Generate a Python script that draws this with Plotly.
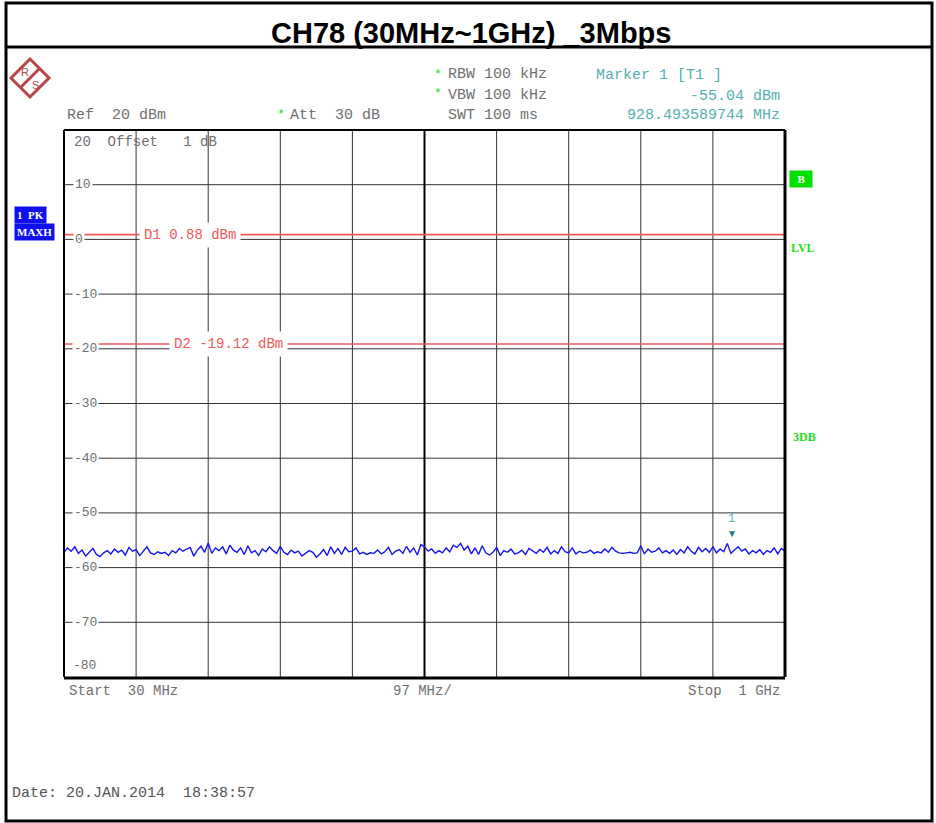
import numpy as np
import plotly.graph_objects as go

# ---------------- data ----------------
f_start_mhz = 30.0
f_stop_mhz = 1000.0
span_per_div = 97.0
ref_level_dbm = 20.0
y_bottom_dbm = -80.0
y_tick_vals = [20, 10, 0, -10, -20, -30, -40, -50, -60, -70, -80]
y_tick_labels = ["20", "10", "0", "-10", "-20", "-30", "-40", "-50", "-60", "-70", "-80"]

d1_level_dbm = 0.88
d2_level_dbm = -19.12
marker_freq_mhz = 928.493589744
marker_level_dbm = -55.04

trace_dbm = [
    -57.2, -56.4, -57.0, -56.2, -57.4, -56.8, -57.9, -57.1, -56.5, -57.6, -58.0, -57.3, -56.9, -57.5, -56.6, -57.2, -56.8, -57.7, -56.3, -57.0,
    -56.7, -57.8, -56.9, -56.2, -57.3, -57.6, -57.1, -57.4, -57.2, -57.8, -56.9, -57.3, -56.5, -57.0, -56.6, -56.3, -57.9, -56.8, -56.1, -57.2,
    -55.5, -57.4, -56.4, -56.9, -56.2, -57.5, -55.9, -56.8, -57.2, -56.4, -57.6, -56.0, -57.3, -56.9, -57.8, -56.6, -57.1, -56.2, -56.9, -57.4,
    -56.1, -57.2, -57.6, -56.8, -57.3, -57.0, -57.9, -57.4, -56.9, -57.2, -58.1, -57.5, -56.7, -57.8, -56.2, -57.4, -56.5, -57.6, -56.3, -57.1,
    -57.0, -56.4, -57.5, -57.2, -57.6, -57.3, -57.4, -56.8, -57.5, -57.1, -56.3, -57.6, -57.0, -56.7, -57.4, -56.1, -57.2, -56.4, -57.7, -55.8,
    -56.2, -57.0, -56.6, -57.4, -56.9, -57.3, -56.4, -57.1, -55.9, -56.3, -55.6, -56.8, -56.1, -57.5, -56.4, -57.6, -56.0, -57.3, -57.7, -57.2,
    -56.3, -57.8, -56.9, -57.2, -56.6, -57.5, -57.3, -56.8, -57.6, -56.5, -57.0, -57.4, -56.7, -57.2, -56.3, -57.5, -56.9, -57.4, -56.2, -57.1,
    -57.3, -56.4, -57.5, -57.0, -57.3, -57.2, -56.8, -57.4, -57.1, -57.3, -56.6, -57.2, -56.3, -57.0, -57.3, -57.4, -57.3, -57.2, -57.4, -57.3,
    -56.0, -57.5, -56.6, -57.2, -57.0, -56.4, -57.3, -56.9, -57.4, -56.8, -57.6, -56.7, -57.3, -56.2, -57.0, -57.5, -56.3, -57.1, -56.5, -57.2,
    -56.2, -57.3, -56.6, -57.1, -55.6, -57.4, -56.8, -56.2, -57.0, -56.6, -57.5, -56.9, -57.3, -56.7, -57.6, -56.9, -57.2, -56.4, -57.5, -56.5,
    -57.0,
]
freq_mhz = np.linspace(f_start_mhz, f_stop_mhz, len(trace_dbm))
x_grid = [f_start_mhz + span_per_div * k for k in range(11)]

# ---------------- layout geometry (pixels) ----------------
W, H = 936, 823
L, R, T, B = 64, 785, 130, 677


def px(x):
    return (x - L) / (R - L)


def py(y):
    return (B - y) / (B - T)


MONO = "Liberation Mono, Courier New, monospace"
GREY = "#707070"
TEAL = "#55b0b0"
GREEN = "#22dd22"
RED = "#f05858"
BLUE = "#1414f0"

fig = go.Figure()

fig.add_trace(go.Scatter(
    x=freq_mhz, y=trace_dbm, mode="lines",
    line=dict(color=BLUE, width=1.4), hoverinfo="skip", showlegend=False,
))

fig.add_trace(go.Scatter(
    x=[marker_freq_mhz], y=[marker_level_dbm], mode="markers",
    marker=dict(color="rgba(0,0,0,0)", size=1), showlegend=False, hoverinfo="skip",
))

shapes = []
for v in y_tick_vals[1:-1]:
    shapes.append(dict(type="line", xref="x", yref="y", x0=f_start_mhz, x1=f_stop_mhz, y0=v, y1=v,
                       line=dict(color="#333333", width=1), layer="below"))
for i, v in enumerate(x_grid[1:-1]):
    w = 2 if abs(v - (f_start_mhz + 5 * span_per_div)) < 1e-6 else 1
    c = "#000000" if w == 2 else "#333333"
    shapes.append(dict(type="line", xref="x", yref="y", x0=v, x1=v, y0=y_bottom_dbm, y1=ref_level_dbm,
                       line=dict(color=c, width=w), layer="below"))
for lvl in (d1_level_dbm, d2_level_dbm):
    shapes.append(dict(type="line", xref="x", yref="y", x0=f_start_mhz, x1=f_stop_mhz, y0=lvl, y1=lvl,
                       line=dict(color=RED, width=1.6), layer="below"))
shapes += [
    dict(type="line", xref="paper", yref="paper", x0=0, x1=0, y0=0, y1=1, line=dict(color="black", width=2)),
    dict(type="line", xref="paper", yref="paper", x0=0, x1=1, y0=1, y1=1, line=dict(color="black", width=2)),
    dict(type="line", xref="paper", yref="paper", x0=1, x1=1, y0=0, y1=1, line=dict(color="black", width=3)),
    dict(type="line", xref="paper", yref="paper", x0=0, x1=1, y0=py(678), y1=py(678), line=dict(color="black", width=3)),
]
shapes += [
    dict(type="rect", xref="paper", yref="paper", x0=px(6), x1=px(932), y0=py(3), y1=py(821),
         line=dict(color="black", width=3)),
    dict(type="line", xref="paper", yref="paper", x0=px(6), x1=px(932), y0=py(47), y1=py(47),
         line=dict(color="black", width=3)),
]
logo_col = "#b84545"
cx, cy, r = 30, 78, 19
shapes.append(dict(type="path", xref="paper", yref="paper",
                   path=f"M {px(cx)} {py(cy - r)} L {px(cx + r)} {py(cy)} L {px(cx)} {py(cy + r)} L {px(cx - r)} {py(cy)} Z",
                   line=dict(color=logo_col, width=3), fillcolor="rgba(0,0,0,0)"))
shapes.append(dict(type="line", xref="paper", yref="paper",
                   x0=px(cx - 9), y0=py(cy + 9), x1=px(cx + 9), y1=py(cy - 9),
                   line=dict(color=logo_col, width=3)))

ann = []


def text(x, y, s, color=GREY, size=15, anchor="left", family=MONO, bg=None, bold=False, pad=0):
    d = dict(x=px(x), y=py(y), xref="paper", yref="paper", text=(f"<b>{s}</b>" if bold else s),
             showarrow=False, xanchor=anchor, yanchor="middle",
             font=dict(family=family, size=size, color=color), borderpad=pad)
    if bg:
        d["bgcolor"] = bg
    ann.append(d)


ann.append(dict(x=px(471), y=py(33), xref="paper", yref="paper", text="<b>CH78 (30MHz~1GHz) _3Mbps</b>",
                showarrow=False, xanchor="center", yanchor="middle",
                font=dict(family="Liberation Sans, Arial, sans-serif", size=29, color="black")))
text(25, 72, "R", color=logo_col, size=11, anchor="center", family="Liberation Sans, Arial")
text(35, 85, "S", color=logo_col, size=11, anchor="center", family="Liberation Sans, Arial")

text(66, 115, "Ref  20 dBm")
text(276, 114, "*", color=GREEN, size=13)
text(289, 115, "Att  30 dB")
text(433, 74, "*", color=GREEN, size=13)
text(447, 75, "RBW 100 kHz")
text(433, 94, "*", color=GREEN, size=13)
text(447, 95, "VBW 100 kHz")
text(447, 115, "SWT 100 ms")
text(595, 76, "Marker 1 [T1 ]", color=TEAL)
text(781, 96, f"{marker_level_dbm:.2f} dBm", color=TEAL, anchor="right")
text(781, 115, f"{marker_freq_mhz:.9f} MHz", color=TEAL, anchor="right")

text(73, 142, "20  Offset   1 dB", size=14)
for v, lab in zip(y_tick_vals[1:-1], y_tick_labels[1:-1]):
    yy = B - (v - y_bottom_dbm) / (ref_level_dbm - y_bottom_dbm) * (B - T)
    text(72 if v < 0 else 73, yy, lab, size=13, bg="white", pad=1)
text(72, 665, y_tick_labels[-1], size=13)

for xl, lvl, name in ((139, d1_level_dbm, "D1"), (169, d2_level_dbm, "D2")):
    yy = B - (lvl - y_bottom_dbm) / (ref_level_dbm - y_bottom_dbm) * (B - T)
    text(xl, yy, f"{name} {lvl:.2f} dBm", color=RED, size=14, bg="white", pad=4)

text(14, 215, "1&nbsp;&nbsp;PK", color="white", size=11, family="Liberation Serif, serif", bg="#1010ee", bold=True, pad=2)
text(14, 232, "MAXH", color="white", size=11, family="Liberation Serif, serif", bg="#1010ee", bold=True, pad=2)
text(789, 179, "&nbsp;&nbsp;B&nbsp;&nbsp;", color="white", size=11, family="Liberation Serif, serif", bg="#00e000", bold=True, pad=2)
text(790, 248, "LVL", color=GREEN, size=12, family="Liberation Serif, serif", bold=True)
text(792, 437, "3DB", color=GREEN, size=12, family="Liberation Serif, serif", bold=True)

ann.append(dict(x=marker_freq_mhz, y=marker_level_dbm, xref="x", yref="y", text="▼", showarrow=False,
                yanchor="bottom", yshift=-2, font=dict(size=10, color="#1a8080")))
ann.append(dict(x=marker_freq_mhz, y=marker_level_dbm, xref="x", yref="y", text="1", showarrow=False,
                yanchor="bottom", yshift=12, font=dict(family=MONO, size=12, color=TEAL)))

text(68, 691, "Start  30 MHz", size=14)
text(392, 691, f"{span_per_div:.0f} MHz/", size=14)
text(781, 691, "Stop  1 GHz", size=14, anchor="right")
text(11, 793, "Date: 20.JAN.2014  18:38:57", size=15, color="#555555")

fig.update_layout(
    width=W, height=H,
    margin=dict(l=L, r=W - R, t=T, b=H - B, pad=0),
    paper_bgcolor="white", plot_bgcolor="white",
    xaxis=dict(range=[f_start_mhz, f_stop_mhz], showgrid=False, zeroline=False, showticklabels=False,
               ticks="", fixedrange=True),
    yaxis=dict(range=[y_bottom_dbm, ref_level_dbm], showgrid=False, zeroline=False, showticklabels=False,
               ticks="", fixedrange=True),
    shapes=shapes, annotations=ann, showlegend=False,
)

fig.write_html("out.html", config={"displayModeBar": False},
               post_script="document.body.style.margin='0';document.body.style.overflow='hidden';")
